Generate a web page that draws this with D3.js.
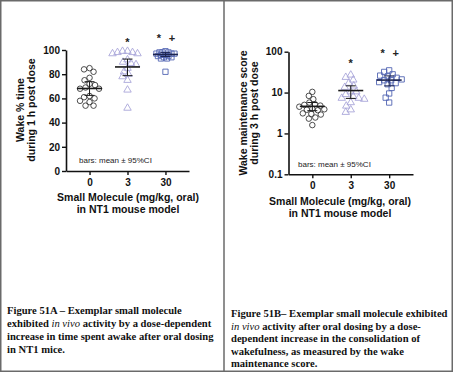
<!DOCTYPE html>
<html><head><meta charset="utf-8">
<script src="https://cdn.jsdelivr.net/npm/d3@7"></script>
<style>
html,body{margin:0;padding:0;background:#fff;}
svg{display:block;}
</style></head>
<body>
<svg id="c" width="453" height="372"></svg>
<script>
// ---------- data ----------
const doses = ["0", "3", "30"];

// Panel A: wake % time during 1 h post dose
const wakeDose0 = [85, 82, 84, 77, 75, 72, 69, 68, 68, 71, 62, 61, 60, 58, 57, 54, 54];
const wakeDose3 = [99, 98, 97, 99, 98, 97, 92, 90, 89, 88, 85, 82, 80, 78, 75, 67, 52];
const wakeDose30 = [99, 98, 98, 97, 97, 96, 96, 95, 95, 94, 94, 93, 93, 98, 97, 82];
const wakeMean = [68.2, 86.0, 96.3];
const wakeCiLow = [62.5, 78.8, 94.6];
const wakeCiHigh = [73.8, 92.5, 98.0];
const wakeTicks = [0, 20, 40, 60, 80, 100];

// Panel B: wake maintenance score during 3 h post dose
const wmsDose0 = [10.4, 8.3, 6.9, 5.7, 5.2, 5.0, 4.8, 4.5, 4.0, 3.9, 3.8, 3.7, 3.1, 3.0, 2.9, 2.45, 2.3, 1.6];
const wmsDose3 = [27, 23.7, 20.4, 17, 13.5, 14.6, 10.5, 10.5, 9, 7.3, 8, 7.3, 6.9, 4.7, 5.7, 3.3, 3.8];
const wmsDose30 = [35, 32, 28, 26, 25, 23, 21, 20, 20, 18, 17, 16, 13, 9.5, 7.5, 5.7];
const wmsMean = [4.6, 11.2, 20.2];
const wmsCiLow = [3.6, 7.2, 14.6];
const wmsCiHigh = [5.7, 14.6, 25.6];
const wmsTicks = [0.1, 1, 10, 100];

// significance marks per dose group
const sigMarks = [[], ["*"], ["*", "+"]];

const annotation = "bars: mean \u00b1 95%CI";
const xTitle = ["Small Molecule (mg/kg, oral)", "in NT1 mouse model"];
const xTitleB = ["Small  Molecule (mg/kg, oral)", "in NT1 mouse model"];
const yTitleA = ["Wake % time", "during 1 h post dose"];
const yTitleB = ["Wake maintenance score", "during 3 h post dose"];
const captionA = [
  [{t:"Figure 51A \u2013 Exemplar small molecule"}],
  [{t:"exhibited "},{t:"in vivo",i:true},{t:" activity by a dose-dependent"}],
  [{t:"increase in time spent awake after oral dosing"}],
  [{t:"in NT1 mice."}]
];
const captionB = [
  [{t:"Figure 51B\u2013 Exemplar small molecule exhibited"}],
  [{t:"in vivo",i:true},{t:" activity after oral dosing by a dose-"}],
  [{t:"dependent increase in the consolidation of"}],
  [{t:"wakefulness, as measured by the wake"}],
  [{t:"maintenance score."}]
];

// ---------- styles ----------
const colors = ["#3a3a3a", "#a9a6d9", "#5265b3"];
const shapes = [d3.symbolCircle, d3.symbolTriangle, d3.symbolSquare];
const sizes = [24, 24, 28];
const SANS = "Liberation Sans, Arial, sans-serif";
const SERIF = "Liberation Serif, Times New Roman, serif";

const svg = d3.select("#c");

// frame
const frame = svg.append("g").attr("stroke", "#6a6a6a").attr("stroke-width", 1.5).attr("fill", "none");
frame.append("rect").attr("x", 0.75).attr("y", 0.75).attr("width", 451.5).attr("height", 370.5);
frame.append("line").attr("x1", 224).attr("x2", 224).attr("y1", 0).attr("y2", 372);

function swarm(vals, yScale, cx, minD) {
  const order = vals.map((v, i) => ({v, i, y: yScale(v)})).sort((a, b) => a.y - b.y);
  const placed = [];
  const out = new Array(vals.length);
  for (const p of order) {
    let best = 0;
    for (let k = 0; k < 400; k++) {
      const off = (k % 2 === 0 ? 1 : -1) * Math.ceil(k / 2) * 0.5;
      const ok = placed.every(q => Math.hypot(q.x - off, q.y - p.y) >= minD);
      if (ok) { best = off; break; }
    }
    placed.push({x: best, y: p.y});
    out[p.i] = {x: cx + best, y: p.y, v: p.v};
  }
  return out;
}

function panel(cfg) {
  const g = svg.append("g");
  const x = d3.scalePoint().domain(doses).range([cfg.x0, cfg.x1]).padding(0.62);
  const y = cfg.y;
  // axes
  const yAxis = d3.axisLeft(y).tickValues(cfg.ticks).tickSize(4).tickSizeOuter(0)
      .tickFormat(cfg.fmt);
  const xAxis = d3.axisBottom(x).tickSize(4).tickSizeOuter(0);
  const ya = g.append("g").attr("transform", `translate(${cfg.x0},0)`).call(yAxis);
  const xa = g.append("g").attr("transform", `translate(0,${cfg.yBase})`).call(xAxis);
  [ya, xa].forEach(a => {
    a.select(".domain").attr("stroke", "#111").attr("stroke-width", 1.6);
    a.selectAll(".tick line").attr("stroke", "#111").attr("stroke-width", 1.4);
    a.selectAll("text").attr("font-family", SANS).attr("font-weight", "bold")
      .attr("font-size", 10).attr("fill", "#111");
  });
  ya.selectAll("text").attr("x", -6);
  xa.selectAll("text").attr("y", 8);

  // points
  cfg.groups.forEach((vals, gi) => {
    const pts = swarm(vals, y, x(doses[gi]), cfg.minD[gi]);
    g.append("g").selectAll("path").data(pts).join("path")
      .attr("d", d3.symbol().type(shapes[gi]).size(sizes[gi]))
      .attr("transform", d => `translate(${d.x},${d.y})`)
      .attr("fill", "none").attr("stroke", colors[gi]).attr("stroke-width", 0.9);
  });
  // mean and CI
  doses.forEach((d, gi) => {
    const cx = x(d);
    const eg = g.append("g").attr("stroke", gi === 2 ? "#1c2450" : "#1a1a1a");
    eg.append("line").attr("x1", cx - 12.5).attr("x2", cx + 12.5)
      .attr("y1", y(cfg.mean[gi])).attr("y2", y(cfg.mean[gi])).attr("stroke-width", 1.6);
    eg.append("line").attr("x1", cx).attr("x2", cx)
      .attr("y1", y(cfg.lo[gi])).attr("y2", y(cfg.hi[gi])).attr("stroke-width", 1);
    [cfg.lo[gi], cfg.hi[gi]].forEach(v => {
      eg.append("line").attr("x1", cx - 5).attr("x2", cx + 5)
        .attr("y1", y(v)).attr("y2", y(v)).attr("stroke-width", 1);
    });
    // significance
    const m = sigMarks[gi];
    m.forEach((s, si) => {
      const sx = m.length === 1 ? cx : cx + (si === 0 ? -6.5 : 6.5);
      g.append("text").attr("x", sx).attr("y", (m.length === 1 ? cfg.sig1 : cfg.sig2))
        .attr("text-anchor", "middle").attr("font-family", SANS).attr("font-weight", "bold")
        .attr("font-size", 11).attr("fill", "#222").text(s);
    });
  });
  // annotation
  g.append("text").attr("x", cfg.annX).attr("y", cfg.annY).attr("font-family", SANS)
    .attr("font-size", 8).attr("fill", "#222").text(annotation);
  // y title
  const yt = g.append("text").attr("transform", `translate(${cfg.ytX},${cfg.ytY}) rotate(-90)`)
    .attr("text-anchor", "middle").attr("font-family", SANS).attr("font-weight", "bold")
    .attr("font-size", 10.5).attr("fill", "#111");
  cfg.yTitle.forEach((t, i) => yt.append("tspan").attr("x", 0).attr("dy", i === 0 ? 0 : 11.2).text(t));
  // x title
  const xt = g.append("text").attr("text-anchor", "middle").attr("font-family", SANS)
    .attr("font-weight", "bold").attr("font-size", 10.5).attr("fill", "#111");
  cfg.xTitle.forEach((t, i) => xt.append("tspan").attr("x", cfg.xtX).attr("y", cfg.xtY + i * 11.5).text(t));
  // caption
  cfg.caption.forEach((line, i) => {
    const tx = g.append("text").attr("x", cfg.capX).attr("y", cfg.capY + i * cfg.capDy)
      .attr("font-family", SERIF).attr("font-weight", "bold").attr("font-size", 10.6).attr("fill", "#111");
    line.forEach(s => tx.append("tspan").attr("font-style", s.i ? "italic" : null)
      .attr("font-weight", s.i ? "normal" : "bold").text(s.t));
  });
}

panel({
  x0: 66, x1: 189, yBase: 171,
  y: d3.scaleLinear().domain([0, 100]).range([171, 50]),
  ticks: wakeTicks, fmt: d3.format("d"),
  groups: [wakeDose0, wakeDose3, wakeDose30], minD: [5.2, 5.0, 2.8],
  mean: wakeMean, lo: wakeCiLow, hi: wakeCiHigh,
  sig1: 46, sig2: 42,
  annX: 79, annY: 163,
  ytX: 24, ytY: 110, yTitle: yTitleA,
  xtX: 128, xtY: 201, xTitle: xTitle,
  caption: captionA, capX: 7, capY: 314, capDy: 13
});

panel({
  x0: 288.5, x1: 413, yBase: 174.3,
  y: d3.scaleLog().domain([0.1, 100]).range([174.3, 51.7]),
  ticks: wmsTicks, fmt: d => d3.format("~g")(d),
  groups: [wmsDose0, wmsDose3, wmsDose30], minD: [5.2, 5.4, 5.2],
  mean: wmsMean, lo: wmsCiLow, hi: wmsCiHigh,
  sig1: 67, sig2: 57,
  annX: 298, annY: 167,
  ytX: 247, ytY: 113, yTitle: yTitleB,
  xtX: 340, xtY: 205, xTitle: xTitleB,
  caption: captionB, capX: 231, capY: 317, capDy: 12.6
});
</script>
</body></html>
